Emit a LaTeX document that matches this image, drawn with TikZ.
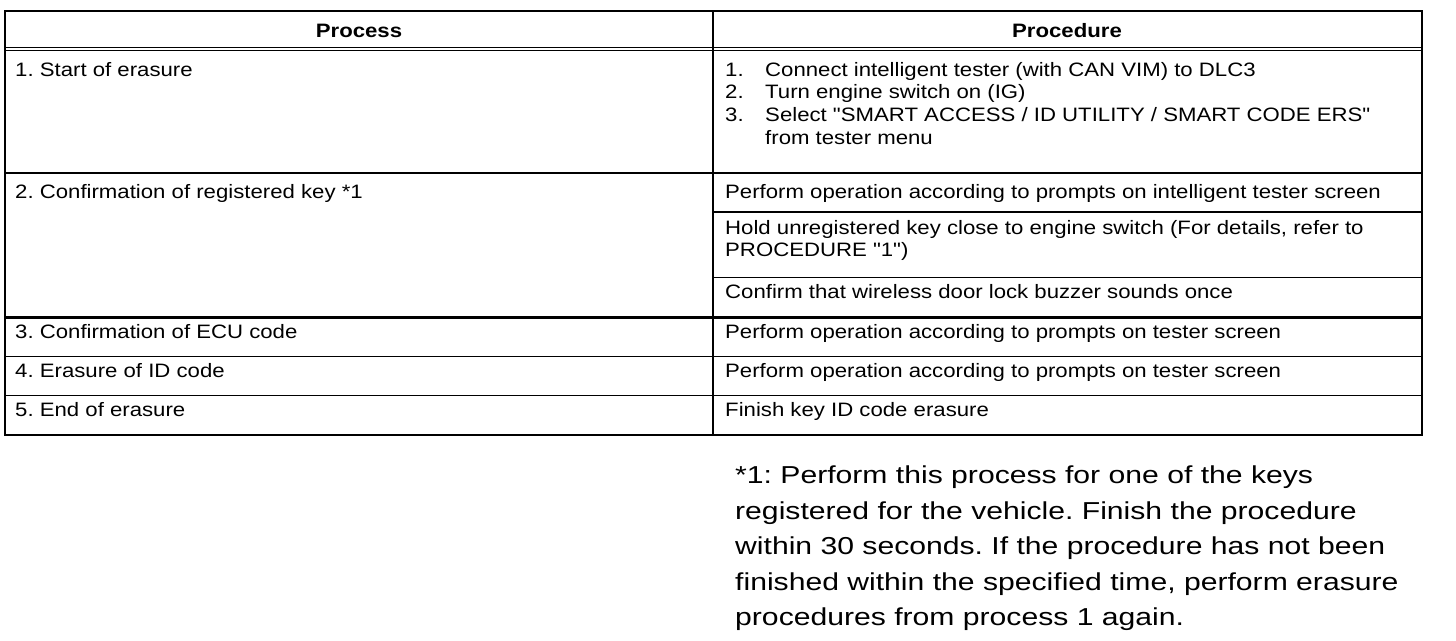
\documentclass[tikz,border=0pt]{standalone}
\usepackage{fontspec}
\setmainfont{Liberation Sans}
\newfontfamily\tabfont[FakeStretch=1.143]{Liberation Sans}
\newfontfamily\notefont[FakeStretch=1.23]{Liberation Sans}
\newcommand{\tabsize}{\tabfont\fontsize{19.4}{22.6}\selectfont}
\newcommand{\footsize}{\notefont\fontsize{24.5}{35.5}\selectfont\frenchspacing}
\begin{document}
\frenchspacing
\begin{tikzpicture}[x=1pt,y=-1pt,
  cell/.style={anchor=base west, inner sep=0pt, font=\tabsize},
  head/.style={anchor=base, inner sep=0pt, font=\tabsize\bfseries},
  foot/.style={anchor=base west, inner sep=0pt, font=\footsize},
  thickrule/.style={line width=2.3pt},
  thinrule/.style={line width=1.5pt},
  hairrule/.style={line width=1pt}]
\useasboundingbox (0,0) rectangle (1456,640);
% grid
\draw[thickrule] (5,11) rectangle (1422,435);
\draw[hairrule] (5,47.5) -- (1422,47.5);
\draw[hairrule] (5,50.8) -- (1422,50.8);
\draw[thickrule] (713,11) -- (713,435);
\draw[thickrule] (5,173) -- (1422,173);
\draw[thinrule] (713,212) -- (1422,212);
\draw[thinrule] (713,277.5) -- (1422,277.5);
\draw[thickrule] (5,317.5) -- (1422,317.5);
\draw[thinrule] (5,356.5) -- (1422,356.5);
\draw[thinrule] (5,395.5) -- (1422,395.5);
% header
\node[head] (hprocess) at (359,37) {Process};
\node[head] (hprocedure) at (1067,37) {Procedure};
% row 1
\node[cell] (p1) at (15,76) {1. Start of erasure};
\node[cell] (n1) at (725,76) {1.};
\node[cell] (t1) at (765,76) {Connect intelligent tester (with CAN VIM) to DLC3};
\node[cell] (n2) at (725,98.7) {2.};
\node[cell] (t2) at (765,98.7) {Turn engine switch on (IG)};
\node[cell] (n3) at (725,121.3) {3.};
\node[cell] (t3) at (765,121.3) {Select "SMART ACCESS / ID UTILITY / SMART CODE ERS"};
\node[cell] (t3b) at (765,144) {from tester menu};
% row 2
\node[cell] (p2) at (15,198) {2. Confirmation of registered key *1};
\node[cell] (r2a) at (725,198) {Perform operation according to prompts on intelligent tester screen};
\node[cell] (r2b) at (725,234) {Hold unregistered key close to engine switch (For details, refer to};
\node[cell] (r2b2) at (725,256.5) {PROCEDURE "1")};
\node[cell] (r2c) at (725,298) {Confirm that wireless door lock buzzer sounds once};
% rows 3-5
\node[cell] (p3) at (15,338) {3. Confirmation of ECU code};
\node[cell] (r3) at (725,338) {Perform operation according to prompts on tester screen};
\node[cell] (p4) at (15,377) {4. Erasure of ID code};
\node[cell] (r4) at (725,377) {Perform operation according to prompts on tester screen};
\node[cell] (p5) at (15,416) {5. End of erasure};
\node[cell] (r5) at (725,416) {Finish key ID code erasure};
% footnote
\node[foot] (f1) at (735,483.5) {*1: Perform this process for one of the keys};
\node[foot] (f2) at (735,519) {registered for the vehicle. Finish the procedure};
\node[foot] (f3) at (735,554.5) {within 30 seconds. If the procedure has not been};
\node[foot] (f4) at (735,590) {finished within the specified time, perform erasure};
\node[foot] (f5) at (735,625.5) {procedures from process 1 again.};
\end{tikzpicture}
\end{document}
